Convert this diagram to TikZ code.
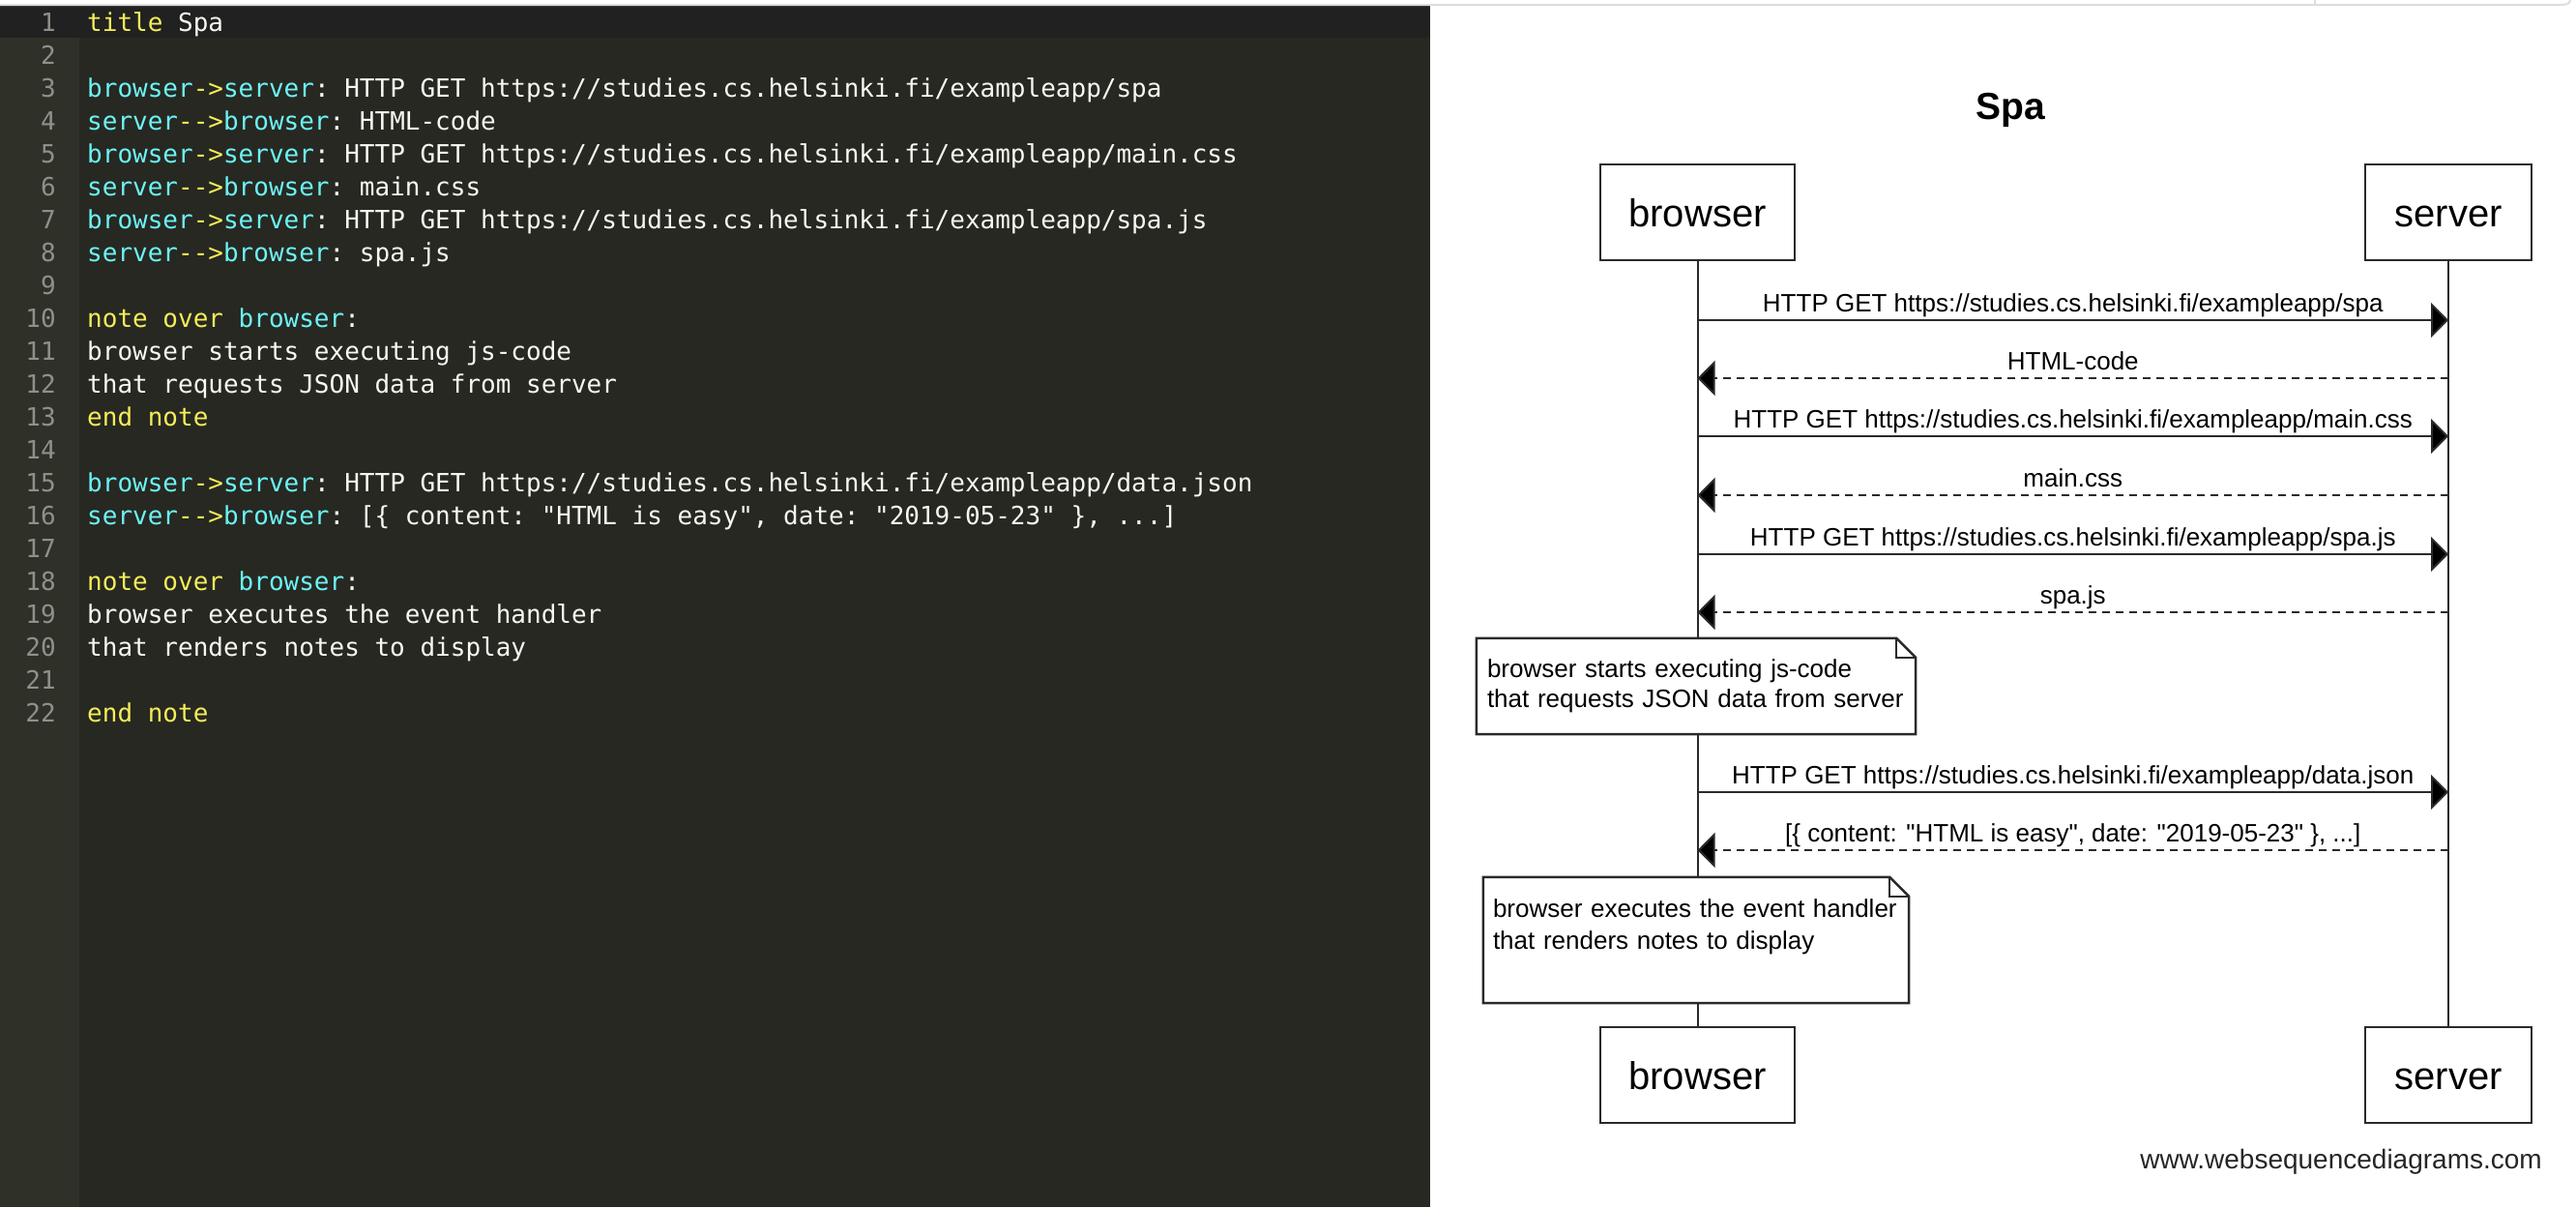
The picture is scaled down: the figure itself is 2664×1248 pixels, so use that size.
\documentclass[tikz,border=0pt]{standalone}
\usepackage{fontspec}
\setmainfont{Liberation Sans}[Ligatures=TeXOff]
\setmonofont{DejaVu Sans Mono}
\usetikzlibrary{arrows.meta}
\usetikzlibrary{positioning}

\definecolor{editorbg}{HTML}{272822}
\definecolor{gutterbg}{HTML}{2F3129}
\definecolor{curline}{HTML}{212121}
\definecolor{numgray}{HTML}{8F908A}
\definecolor{codewhite}{HTML}{F8F8F2}
\definecolor{kwyellow}{HTML}{F4EE58}
\definecolor{idcyan}{HTML}{6CF4F6}
\definecolor{seqline}{HTML}{2A2A2A}
\definecolor{topbar}{HTML}{DDDDDD}

\newcommand{\kwtext}[1]{\textcolor{kwyellow}{#1}}
\newcommand{\idtext}[1]{\textcolor{idcyan}{#1}}

\tikzset{
  lnum/.style={anchor=base east, inner sep=0pt, text=numgray, font=\ttfamily\fontsize{26}{34}\selectfont},
  code/.style={anchor=base west, inner sep=0pt, text=codewhite, font=\ttfamily\fontsize{26}{34}\selectfont},
  actor/.style={draw=seqline, line width=2.5pt, fill=white, minimum height=99pt, inner sep=0pt,
                text height=30pt, text depth=0pt, font=\fontsize{40}{48}\selectfont},
  notebox/.style={fill=white, align=left, inner ysep=0pt, font=\fontsize{26}{31}\selectfont},
  noteline/.style={draw=seqline, line width=2.5pt},
  life/.style={seqline, line width=2pt},
  req/.style={seqline, line width=2pt, -{Triangle[length=18pt,width=36pt,fill=black]}},
  resp/.style={req, dash pattern=on 8pt off 6pt},
  msg/.style={midway, anchor=base, yshift=9pt, inner sep=0pt, text=black, font=\fontsize{26}{31}\selectfont}
}

\begin{document}
\begin{tikzpicture}[x=1pt,y=-1pt]

  \useasboundingbox (0,0) rectangle (2664,1248);
  \fill[white] (0,0) rectangle (2664,1248);

  % editor
  \fill[editorbg] (0,6) rectangle (1479,1248);
  \fill[gutterbg] (0,6) rectangle (82,1248);
  \fill[curline] (0,6) rectangle (1479,39);
  \draw[topbar,line width=2pt] (0,5) -- (2648,5) to[out=0,in=-90] (2658,0);
  \draw[topbar,line width=2pt] (2394,0) -- (2394,5);

  \foreach \n in {1,...,22}
    \node[lnum] (ln\n) at (58,{32+(\n-1)*34}) {\n};

  \node[code] (c1) at (90,32) {\kwtext{title} Spa};
  \node[code] (c3) at (90,100) {\idtext{browser}\kwtext{->}\idtext{server}: HTTP GET https://studies.cs.helsinki.fi/exampleapp/spa};
  \node[code] (c4) at (90,134) {\idtext{server}\kwtext{-->}\idtext{browser}: HTML-code};
  \node[code] (c5) at (90,168) {\idtext{browser}\kwtext{->}\idtext{server}: HTTP GET https://studies.cs.helsinki.fi/exampleapp/main.css};
  \node[code] (c6) at (90,202) {\idtext{server}\kwtext{-->}\idtext{browser}: main.css};
  \node[code] (c7) at (90,236) {\idtext{browser}\kwtext{->}\idtext{server}: HTTP GET https://studies.cs.helsinki.fi/exampleapp/spa.js};
  \node[code] (c8) at (90,270) {\idtext{server}\kwtext{-->}\idtext{browser}: spa.js};
  \node[code] (c10) at (90,338) {\kwtext{note over} \idtext{browser}:};
  \node[code] (c11) at (90,372) {browser starts executing js-code};
  \node[code] (c12) at (90,406) {that requests JSON data from server};
  \node[code] (c13) at (90,440) {\kwtext{end note}};
  \node[code] (c15) at (90,508) {\idtext{browser}\kwtext{->}\idtext{server}: HTTP GET https://studies.cs.helsinki.fi/exampleapp/data.json};
  \node[code] (c16) at (90,542) {\idtext{server}\kwtext{-->}\idtext{browser}: [\{ content: "HTML is easy", date: "2019-05-23" \}, ...]};
  \node[code] (c18) at (90,610) {\kwtext{note over} \idtext{browser}:};
  \node[code] (c19) at (90,644) {browser executes the event handler};
  \node[code] (c20) at (90,678) {that renders notes to display};
  \node[code] (c22) at (90,746) {\kwtext{end note}};

  % sequence diagram
  \node[anchor=base, inner sep=0pt, font=\bfseries\fontsize{39}{47}\selectfont] (title) at (2079,123) {Spa};

  \node[actor, minimum width=201pt] (btop) at (1755.5,219.5) {browser};
  \node[actor, minimum width=172pt] (stop) at (2532,219.5) {server};
  \node[actor, minimum width=201pt] (bbot) at (1755.5,1111.5) {browser};
  \node[actor, minimum width=172pt] (sbot) at (2532,1111.5) {server};

  \node[notebox, text width=432pt, inner xsep=11pt, minimum height=99pt] (note1) at (1754,709.5)
    {browser starts executing js-code\\that requests JSON data from server};
  \node[notebox, text width=420pt, inner xsep=10pt, minimum height=130pt, font=\fontsize{26}{33}\selectfont] (note2) at (1754,972)
    {browser executes the event handler\\that renders notes to display\\\mbox{}};

  \foreach \nt in {note1,note2} {
    \draw[noteline] (\nt.north west) -- ([xshift=-20pt]\nt.north east) -- ([yshift=-20pt]\nt.north east)
      -- (\nt.south east) -- (\nt.south west) -- cycle;
    \draw[noteline] ([xshift=-20pt]\nt.north east) -- ([xshift=-20pt,yshift=-20pt]\nt.north east)
      -- ([yshift=-20pt]\nt.north east);
  }

  \draw[life] (btop.south) -- (btop.south |- note1.north);
  \draw[life] (btop.south |- note1.south) -- (btop.south |- note2.north);
  \draw[life] (btop.south |- note2.south) -- (bbot.north);
  \draw[life] (stop.south) -- (sbot.north);

  \foreach \i/\y in {1/331,2/391,3/451,4/512,5/573,6/633,7/819,8/879} {
    \coordinate (b\i) at (1755.5,\y);
    \coordinate (s\i) at (2532,\y);
  }

  \draw[req] (b1) -- node[msg] (m1) {HTTP GET https://studies.cs.helsinki.fi/exampleapp/spa} (s1);
  \draw[resp] (s2) -- node[msg] (m2) {HTML-code} (b2);
  \draw[req] (b3) -- node[msg] (m3) {HTTP GET https://studies.cs.helsinki.fi/exampleapp/main.css} (s3);
  \draw[resp] (s4) -- node[msg] (m4) {main.css} (b4);
  \draw[req] (b5) -- node[msg] (m5) {HTTP GET https://studies.cs.helsinki.fi/exampleapp/spa.js} (s5);
  \draw[resp] (s6) -- node[msg] (m6) {spa.js} (b6);
  \draw[req] (b7) -- node[msg] (m7) {HTTP GET https://studies.cs.helsinki.fi/exampleapp/data.json} (s7);
  \draw[resp] (s8) -- node[msg] (m8) {[\{ content: "HTML is easy", date: "2019-05-23" \}, ...]} (b8);

  \node[anchor=base east, inner sep=0pt, text=black!85, font=\fontsize{28}{34}\selectfont] (wsd) at (2629,1208) {www.websequencediagrams.com};

\end{tikzpicture}
\end{document}
